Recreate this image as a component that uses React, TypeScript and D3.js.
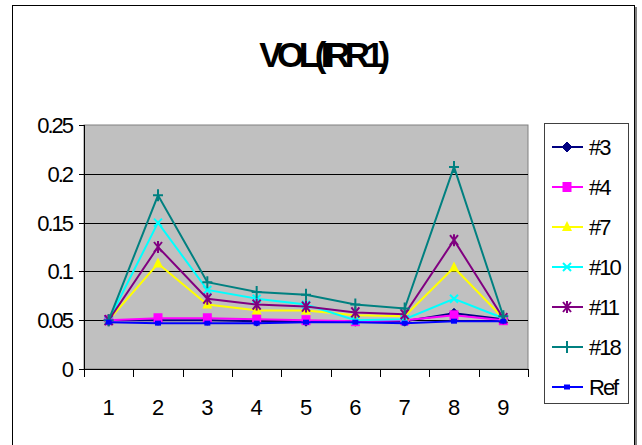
import React from "react";
import * as d3 from "d3";

const categories = ["1", "2", "3", "4", "5", "6", "7", "8", "9"];
const yTicks = [0, 0.05, 0.1, 0.15, 0.2, 0.25];
const yTickLabels = ["0", "0.05", "0.1", "0.15", "0.2", "0.25"];

const seriesNames = ["#3", "#4", "#7", "#10", "#11", "#18", "Ref"];
const s3 = [0.05, 0.05, 0.05, 0.049, 0.049, 0.049, 0.049, 0.057, 0.051];
const s4 = [0.05, 0.052, 0.052, 0.051, 0.05, 0.049, 0.05, 0.055, 0.05];
const s7 = [0.05, 0.108, 0.066, 0.06, 0.06, 0.055, 0.054, 0.104, 0.052];
const s10 = [0.05, 0.15, 0.081, 0.072, 0.066, 0.05, 0.051, 0.072, 0.052];
const s11 = [0.05, 0.125, 0.072, 0.066, 0.064, 0.058, 0.056, 0.132, 0.052];
const s18 = [0.05, 0.178, 0.089, 0.079, 0.076, 0.066, 0.062, 0.207, 0.054];
const sRef = [0.048, 0.047, 0.047, 0.047, 0.048, 0.048, 0.047, 0.049, 0.049];
const seriesValues = [s3, s4, s7, s10, s11, s18, sRef];
const seriesColors = ["#000080", "#FF00FF", "#FFFF00", "#00FFFF", "#800080", "#008080", "#0000FF"];
const seriesMarkers = ["diamond", "square", "triangle", "x", "asterisk", "plus", "smallSquare"];

const W = 642;
const H = 445;
const plot = { left: 84, right: 528, top: 125, bottom: 369 };
const FONT = "'Liberation Sans', Arial, sans-serif";

function Marker({ kind, x, y, color }: { kind: string; x: number; y: number; color: string }) {
  switch (kind) {
    case "diamond":
      return <path d={`M${x},${y - 5}L${x + 5},${y}L${x},${y + 5}L${x - 5},${y}Z`} fill={color} stroke={color} strokeWidth={1} />;
    case "square":
      return <rect x={x - 4.5} y={y - 5} width={9} height={10} fill={color} />;
    case "triangle":
      return <path d={`M${x},${y - 6}L${x + 5},${y + 4}L${x - 5},${y + 4}Z`} fill={color} />;
    case "x":
      return <path d={`M${x - 4},${y - 4}L${x + 4},${y + 4}M${x + 4},${y - 4}L${x - 4},${y + 4}`} stroke={color} strokeWidth={2} />;
    case "asterisk":
      return (
        <path
          d={`M${x - 4},${y - 5}L${x + 4},${y + 5}M${x + 4},${y - 5}L${x - 4},${y + 5}M${x},${y - 6}L${x},${y + 6}`}
          stroke={color}
          strokeWidth={2}
        />
      );
    case "plus":
      return <path d={`M${x - 5},${y}L${x + 5},${y}M${x},${y - 6}L${x},${y + 6}`} stroke={color} strokeWidth={2} />;
    case "smallSquare":
    default:
      return <rect x={x - 3} y={y - 2.5} width={6} height={5} fill={color} />;
  }
}

export default function App() {
  const x = d3.scaleBand<string>().domain(categories).range([plot.left, plot.right]);
  const y = d3.scaleLinear().domain([0, 0.25]).range([plot.bottom, plot.top]);
  const cx = (c: string) => (x(c) as number) + x.bandwidth() / 2;

  const line = d3
    .line<number>()
    .x((_, i) => cx(categories[i]))
    .y((v) => y(v));

  const boundaries = categories.map((c) => x(c) as number).concat([plot.right]);

  const legendTop = 147;
  const legendStep = 40;

  return (
    <svg
      width={W}
      height={H}
      style={{ position: "fixed", left: 0, top: 0, background: "#fff" }}
      fontFamily={FONT}
    >
      {/* chart frame */}
      <rect x={12.5} y={5.5} width={622} height={460} fill="#fff" stroke="#000" strokeWidth={1} />
      <line x1={636} y1={7} x2={636} y2={H} stroke="#000" strokeWidth={1} />

      {/* title */}
      <text x={322} y={67} textAnchor="middle" fontSize={35} fontWeight="bold" letterSpacing={-5.5}>
        VOL(IRR1)
      </text>

      {/* plot area */}
      <rect
        x={plot.left}
        y={plot.top}
        width={plot.right - plot.left}
        height={plot.bottom - plot.top}
        fill="#C0C0C0"
        stroke="#808080"
        strokeWidth={1}
      />
      {yTicks.slice(1, -1).map((t) => (
        <line key={t} x1={plot.left} x2={plot.right} y1={Math.round(y(t)) + 0.5} y2={Math.round(y(t)) + 0.5} stroke="#000" strokeWidth={1} />
      ))}

      {/* y axis */}
      <line x1={plot.left + 0.5} x2={plot.left + 0.5} y1={plot.top} y2={plot.bottom} stroke="#000" />
      {yTicks.map((t, i) => (
        <g key={t}>
          <line x1={plot.left - 5} x2={plot.left} y1={Math.round(y(t)) + 0.5} y2={Math.round(y(t)) + 0.5} stroke="#000" />
          <text x={72} y={y(t) + 8} textAnchor="end" fontSize={22} letterSpacing={-2}>
            {yTickLabels[i]}
          </text>
        </g>
      ))}

      {/* x axis */}
      <line x1={plot.left} x2={plot.right} y1={plot.bottom + 0.5} y2={plot.bottom + 0.5} stroke="#000" />
      {boundaries.map((b, i) => (
        <line key={i} x1={Math.round(b) + 0.5} x2={Math.round(b) + 0.5} y1={plot.bottom} y2={plot.bottom + 8} stroke="#000" />
      ))}
      {categories.map((c) => (
        <text key={c} x={cx(c)} y={415} textAnchor="middle" fontSize={22}>
          {c}
        </text>
      ))}

      {/* series */}
      {seriesValues.map((vals, si) => (
        <g key={seriesNames[si]}>
          <path d={line(vals) as string} fill="none" stroke={seriesColors[si]} strokeWidth={2} />
          {vals.map((v, i) => (
            <Marker key={i} kind={seriesMarkers[si]} x={cx(categories[i])} y={y(v)} color={seriesColors[si]} />
          ))}
        </g>
      ))}

      {/* legend */}
      <rect x={544.5} y={123.5} width={84} height={280} fill="#fff" stroke="#404040" strokeWidth={1} />
      {seriesNames.map((name, i) => {
        const ly = legendTop + i * legendStep;
        return (
          <g key={name}>
            <line x1={552} x2={583} y1={ly} y2={ly} stroke={seriesColors[i]} strokeWidth={2} />
            <Marker kind={seriesMarkers[i]} x={567} y={ly} color={seriesColors[i]} />
            <text x={589} y={ly + 8} fontSize={22} letterSpacing={-2}>
              {name}
            </text>
          </g>
        );
      })}
    </svg>
  );
}
